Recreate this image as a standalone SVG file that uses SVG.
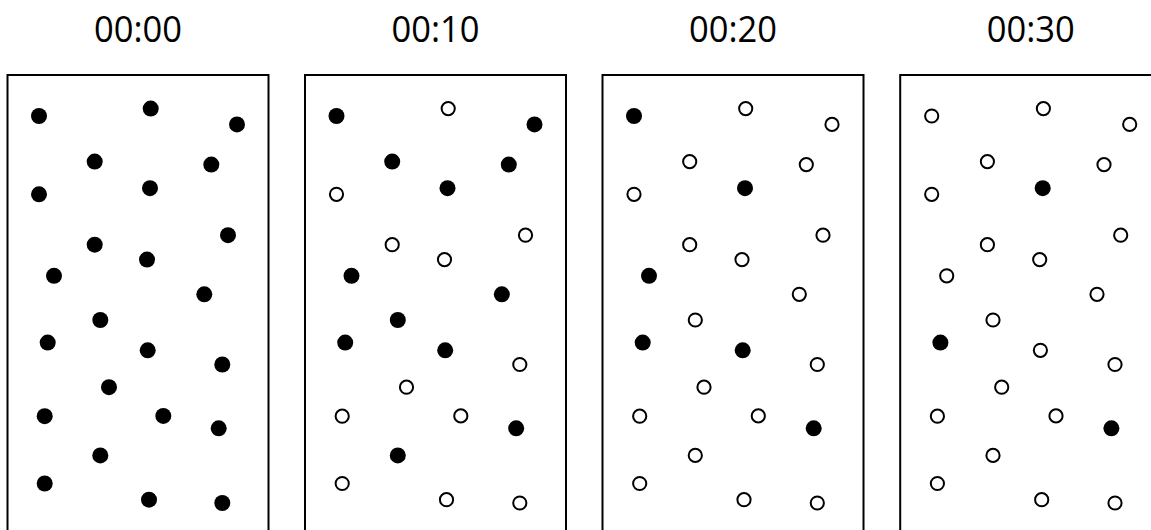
<svg xmlns="http://www.w3.org/2000/svg" width="1151" height="530" viewBox="0 0 1151 530">
<style>
.title{font-family:"Open Sans","Liberation Sans",sans-serif;font-size:36px;fill:#000;text-anchor:middle}
.frame{fill:none;stroke:#000;stroke-width:2}
.f{fill:#000;stroke:none}
.e{fill:#fff;stroke:#000;stroke-width:2}
</style>
<rect width="1151" height="530" fill="#fff"/>
<g id="panel-0000">
<text class="title" x="138" y="41.5" textLength="88" lengthAdjust="spacingAndGlyphs">00:00</text>
<rect class="frame" x="7.5" y="75" width="261" height="480"/>
<circle class="f" cx="39" cy="116" r="8"/><circle class="f" cx="150.7" cy="108.6" r="8"/><circle class="f" cx="237" cy="124.4" r="8"/>
<circle class="f" cx="94.7" cy="161.6" r="8"/><circle class="f" cx="211.3" cy="164.6" r="8"/><circle class="f" cx="39" cy="194.3" r="8"/>
<circle class="f" cx="150" cy="188.2" r="8"/><circle class="f" cx="228" cy="235.2" r="8"/><circle class="f" cx="94.7" cy="244.7" r="8"/>
<circle class="f" cx="147" cy="259.6" r="8"/><circle class="f" cx="54" cy="275.8" r="8"/><circle class="f" cx="204.3" cy="294.3" r="8"/>
<circle class="f" cx="100.3" cy="320" r="8"/><circle class="f" cx="47.7" cy="342.6" r="8"/><circle class="f" cx="147.7" cy="350.3" r="8"/>
<circle class="f" cx="222.3" cy="364.5" r="8"/><circle class="f" cx="109" cy="387.2" r="8"/><circle class="f" cx="44.7" cy="416.2" r="8"/>
<circle class="f" cx="163.3" cy="415.9" r="8"/><circle class="f" cx="218.7" cy="428.3" r="8"/><circle class="f" cx="100.3" cy="455.4" r="8"/>
<circle class="f" cx="44.7" cy="483.5" r="8"/><circle class="f" cx="149" cy="499.7" r="8"/><circle class="f" cx="222.3" cy="503" r="8"/>
</g>
<g id="panel-0010" transform="translate(297.5,0)">
<text class="title" x="138" y="41.5" textLength="88" lengthAdjust="spacingAndGlyphs">00:10</text>
<rect class="frame" x="7.5" y="75" width="261" height="480"/>
<circle class="f" cx="39" cy="116" r="8"/><circle class="e" cx="150.7" cy="108.6" r="6.6"/><circle class="f" cx="237" cy="124.4" r="8"/>
<circle class="f" cx="94.7" cy="161.6" r="8"/><circle class="f" cx="211.3" cy="164.6" r="8"/><circle class="e" cx="39" cy="194.3" r="6.6"/>
<circle class="f" cx="150" cy="188.2" r="8"/><circle class="e" cx="228" cy="235.2" r="6.6"/><circle class="e" cx="94.7" cy="244.7" r="6.6"/>
<circle class="e" cx="147" cy="259.6" r="6.6"/><circle class="f" cx="54" cy="275.8" r="8"/><circle class="f" cx="204.3" cy="294.3" r="8"/>
<circle class="f" cx="100.3" cy="320" r="8"/><circle class="f" cx="47.7" cy="342.6" r="8"/><circle class="f" cx="147.7" cy="350.3" r="8"/>
<circle class="e" cx="222.3" cy="364.5" r="6.6"/><circle class="e" cx="109" cy="387.2" r="6.6"/><circle class="e" cx="44.7" cy="416.2" r="6.6"/>
<circle class="e" cx="163.3" cy="415.9" r="6.6"/><circle class="f" cx="218.7" cy="428.3" r="8"/><circle class="f" cx="100.3" cy="455.4" r="8"/>
<circle class="e" cx="44.7" cy="483.5" r="6.6"/><circle class="e" cx="149" cy="499.7" r="6.6"/><circle class="e" cx="222.3" cy="503" r="6.6"/>
</g>
<g id="panel-0020" transform="translate(595,0)">
<text class="title" x="138" y="41.5" textLength="88" lengthAdjust="spacingAndGlyphs">00:20</text>
<rect class="frame" x="7.5" y="75" width="261" height="480"/>
<circle class="f" cx="39" cy="116" r="8"/><circle class="e" cx="150.7" cy="108.6" r="6.6"/><circle class="e" cx="237" cy="124.4" r="6.6"/>
<circle class="e" cx="94.7" cy="161.6" r="6.6"/><circle class="e" cx="211.3" cy="164.6" r="6.6"/><circle class="e" cx="39" cy="194.3" r="6.6"/>
<circle class="f" cx="150" cy="188.2" r="8"/><circle class="e" cx="228" cy="235.2" r="6.6"/><circle class="e" cx="94.7" cy="244.7" r="6.6"/>
<circle class="e" cx="147" cy="259.6" r="6.6"/><circle class="f" cx="54" cy="275.8" r="8"/><circle class="e" cx="204.3" cy="294.3" r="6.6"/>
<circle class="e" cx="100.3" cy="320" r="6.6"/><circle class="f" cx="47.7" cy="342.6" r="8"/><circle class="f" cx="147.7" cy="350.3" r="8"/>
<circle class="e" cx="222.3" cy="364.5" r="6.6"/><circle class="e" cx="109" cy="387.2" r="6.6"/><circle class="e" cx="44.7" cy="416.2" r="6.6"/>
<circle class="e" cx="163.3" cy="415.9" r="6.6"/><circle class="f" cx="218.7" cy="428.3" r="8"/><circle class="e" cx="100.3" cy="455.4" r="6.6"/>
<circle class="e" cx="44.7" cy="483.5" r="6.6"/><circle class="e" cx="149" cy="499.7" r="6.6"/><circle class="e" cx="222.3" cy="503" r="6.6"/>
</g>
<g id="panel-0030" transform="translate(892.7,0)">
<text class="title" x="138" y="41.5" textLength="88" lengthAdjust="spacingAndGlyphs">00:30</text>
<rect class="frame" x="7.5" y="75" width="261" height="480"/>
<circle class="e" cx="39" cy="116" r="6.6"/><circle class="e" cx="150.7" cy="108.6" r="6.6"/><circle class="e" cx="237" cy="124.4" r="6.6"/>
<circle class="e" cx="94.7" cy="161.6" r="6.6"/><circle class="e" cx="211.3" cy="164.6" r="6.6"/><circle class="e" cx="39" cy="194.3" r="6.6"/>
<circle class="f" cx="150" cy="188.2" r="8"/><circle class="e" cx="228" cy="235.2" r="6.6"/><circle class="e" cx="94.7" cy="244.7" r="6.6"/>
<circle class="e" cx="147" cy="259.6" r="6.6"/><circle class="e" cx="54" cy="275.8" r="6.6"/><circle class="e" cx="204.3" cy="294.3" r="6.6"/>
<circle class="e" cx="100.3" cy="320" r="6.6"/><circle class="f" cx="47.7" cy="342.6" r="8"/><circle class="e" cx="147.7" cy="350.3" r="6.6"/>
<circle class="e" cx="222.3" cy="364.5" r="6.6"/><circle class="e" cx="109" cy="387.2" r="6.6"/><circle class="e" cx="44.7" cy="416.2" r="6.6"/>
<circle class="e" cx="163.3" cy="415.9" r="6.6"/><circle class="f" cx="218.7" cy="428.3" r="8"/><circle class="e" cx="100.3" cy="455.4" r="6.6"/>
<circle class="e" cx="44.7" cy="483.5" r="6.6"/><circle class="e" cx="149" cy="499.7" r="6.6"/><circle class="e" cx="222.3" cy="503" r="6.6"/>
</g>
<g id="connectors"/>
</svg>
